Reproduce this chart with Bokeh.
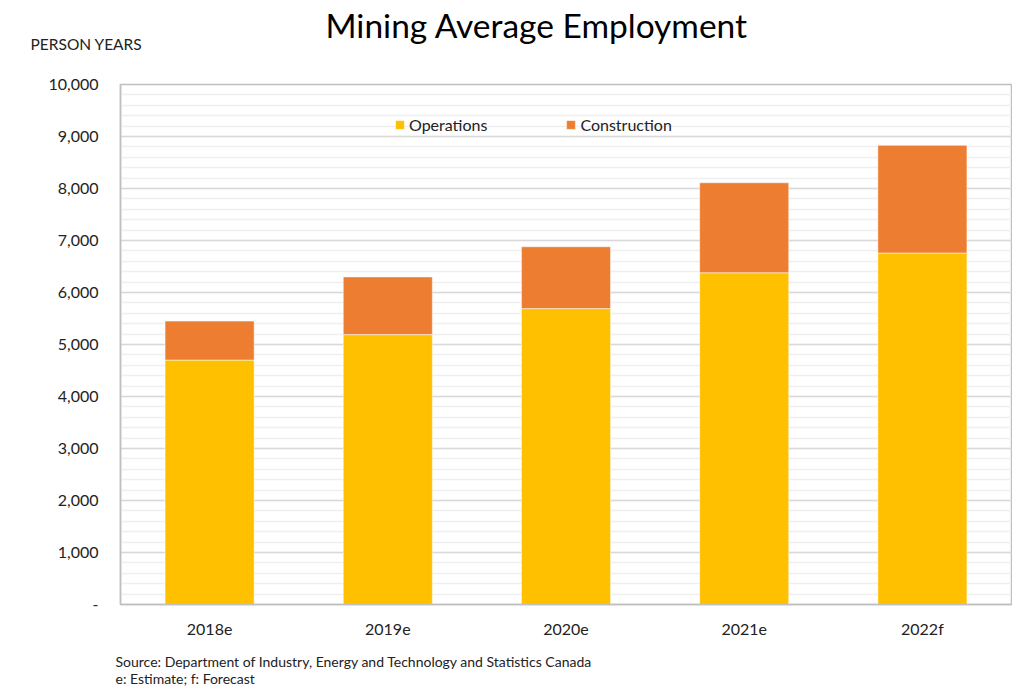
from bokeh.plotting import figure
from bokeh.models import (ColumnDataSource, FixedTicker, NumeralTickFormatter, Legend,
                          LegendItem, Title)
from bokeh.embed import file_html
from bokeh.resources import INLINE

years = ["2018e", "2019e", "2020e", "2021e", "2022f"]
operations = [4700, 5190, 5690, 6380, 6760]
construction = [750, 1110, 1190, 1730, 2070]
series = ["operations", "construction"]
series_labels = ["Operations", "Construction"]
colors = ["#FFC000", "#ED7D31"]
y_ticks = list(range(0, 10001, 1000))

FONT = "Lato"

src = ColumnDataSource(dict(year=years, operations=operations, construction=construction))

p = figure(x_range=years, y_range=(0, 10000), width=1012, height=688,
           output_backend="svg", toolbar_location=None,
           min_border_left=120, min_border_right=1, min_border_top=84, min_border_bottom=84)

rs = p.vbar_stack(series, x="year", width=0.5, source=src, color=colors,
                  line_color="white", line_alpha=0.5, line_width=1)

legend = Legend(items=[LegendItem(label=series_labels[i], renderers=[rs[i]]) for i in range(2)],
                orientation="horizontal", location=(274, 470),
                padding=0, margin=0, spacing=78, label_standoff=4,
                glyph_width=11, glyph_height=11,
                label_text_font=FONT, label_text_font_size="16px", label_text_color="#222222",
                border_line_alpha=0, background_fill_alpha=0)
p.add_layout(legend)

# axes
p.yaxis.ticker = FixedTicker(ticks=y_ticks, minor_ticks=list(range(0, 10001, 200)))
p.yaxis.formatter = NumeralTickFormatter(format="0,0")
p.yaxis.major_label_overrides = {0: "-"}
for ax in (p.xaxis, p.yaxis):
    ax.axis_line_color = "#bfbfbf"
    ax.axis_line_width = 1.5
    ax.major_tick_line_color = None
    ax.minor_tick_line_color = None
    ax.major_tick_out = 0
    ax.minor_tick_out = 0
    ax.major_label_text_font = FONT
    ax.major_label_text_font_size = "16px"
    ax.major_label_text_color = "#222222"
p.yaxis.major_label_standoff = 22
p.xaxis.major_label_standoff = 14

p.xgrid.grid_line_color = None
p.ygrid.grid_line_color = "#d9d9d9"
p.ygrid.grid_line_width = 1.5
p.ygrid.minor_grid_line_color = "#efefef"
p.ygrid.minor_grid_line_width = 1.5
p.outline_line_color = "#bfbfbf"
p.outline_line_width = 1.5

# titles (above panel stacks outward from the frame)
p.title.text = "Mining  Average Employment"
p.title.text_font = FONT
p.title.text_font_size = "33.5px"
p.title.text_font_style = "normal"
p.title.text_color = "black"
p.title.align = "left"
p.title.vertical_align = "bottom"
p.title.offset = 205
p.title.standoff = -88

p.add_layout(Title(text="PERSON YEARS", text_font=FONT, text_font_size="15.5px",
                   text_font_style="normal", text_color="#222222",
                   align="left", vertical_align="bottom", offset=-90, standoff=64), "above")

p.add_layout(Title(text="Source: Department of Industry, Energy and Technology and Statistics Canada",
                   text_font=FONT, text_font_size="14px", text_font_style="normal",
                   text_color="#222222", align="left", vertical_align="top",
                   offset=-5, standoff=25), "below")
p.add_layout(Title(text="e: Estimate; f: Forecast",
                   text_font=FONT, text_font_size="14px", text_font_style="normal",
                   text_color="#222222", align="left", vertical_align="top",
                   offset=-5, standoff=-29), "below")

open("out.html", "w").write(file_html(p, INLINE))
